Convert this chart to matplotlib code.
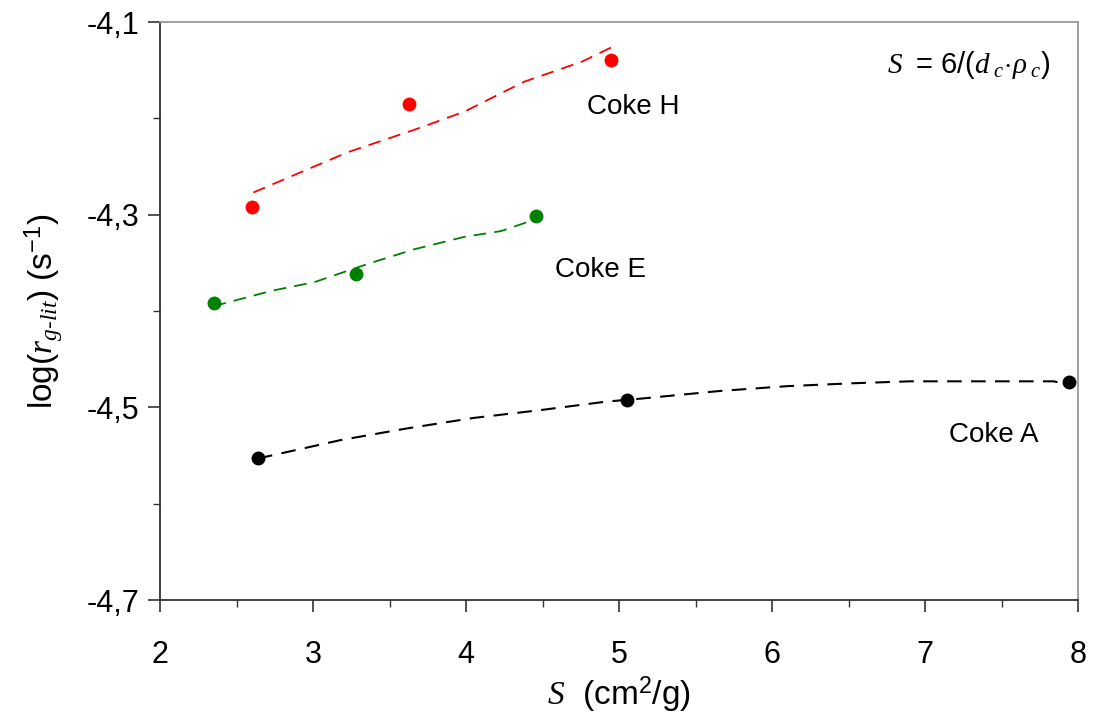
import matplotlib
matplotlib.use('Agg')
import matplotlib.pyplot as plt
from matplotlib.ticker import FuncFormatter, FixedLocator, MultipleLocator

plt.rcParams['font.family'] = ['Liberation Sans', 'DejaVu Sans']
plt.rcParams['mathtext.fontset'] = 'custom'
plt.rcParams['mathtext.rm'] = 'Liberation Sans'
plt.rcParams['mathtext.it'] = 'Liberation Serif:italic'
plt.rcParams['mathtext.sf'] = 'Liberation Sans'
plt.rcParams['axes.unicode_minus'] = False

# measured points
coke_h_x = [2.60, 3.63, 4.95]
coke_h_y = [-4.292, -4.185, -4.139]
coke_e_x = [2.35, 3.28, 4.46]
coke_e_y = [-4.392, -4.362, -4.301]
coke_a_x = [2.64, 5.05, 7.94]
coke_a_y = [-4.553, -4.492, -4.474]

# fitted (dashed) curves
fit_h_x = [2.61, 2.86, 3.23, 3.66, 3.99, 4.38, 4.76, 4.98]
fit_h_y = [-4.277, -4.260, -4.235, -4.212, -4.193, -4.162, -4.141, -4.124]
fit_e_x = [2.35, 2.73, 3.01, 3.36, 3.66, 3.99, 4.23, 4.45]
fit_e_y = [-4.395, -4.379, -4.370, -4.351, -4.336, -4.323, -4.317, -4.305]
fit_a_x = [2.64, 2.70, 3.18, 3.61, 4.05, 4.48, 4.92, 5.14, 5.66, 6.10, 6.53, 6.90, 7.84, 7.90]
fit_a_y = [-4.553, -4.551, -4.534, -4.522, -4.511, -4.503, -4.494, -4.491, -4.483,
           -4.478, -4.475, -4.473, -4.473, -4.475]

y_major = [-4.7, -4.5, -4.3, -4.1]
y_minor = [-4.6, -4.4, -4.2]

fig = plt.figure(figsize=(10.93, 7.19), dpi=100)
ax = fig.add_axes([0.1464, 0.1655, 0.8399, 0.8039])

dash = (7, 4.5)
ax.plot(fit_h_x, fit_h_y, color='red', lw=1.3, dashes=dash)
ax.plot(fit_e_x, fit_e_y, color='green', lw=1.3, dashes=dash)
ax.plot(fit_a_x, fit_a_y, color='black', lw=1.5, dashes=dash)

ax.plot(coke_h_x, coke_h_y, 'o', color='red', ms=10, mec='none')
ax.plot(coke_e_x, coke_e_y, 'o', color='green', ms=10, mec='none')
ax.plot(coke_a_x, coke_a_y, 'o', color='black', ms=10, mec='none')

ax.text(5.09, -4.188, 'Coke H', fontsize=20, ha='center', va='center')
ax.text(4.88, -4.357, 'Coke E', fontsize=20, ha='center', va='center')
ax.text(7.45, -4.529, 'Coke A', fontsize=20, ha='center', va='center')
ax.text(0.97, 0.925, r'$S\;$ = 6/($d_{\;c}\!\cdot\!\rho_{\;c}$)', fontsize=21,
        ha='right', va='center', transform=ax.transAxes)

ax.set_xlim(2, 8)
ax.set_ylim(-4.7, -4.1)
ax.xaxis.set_major_locator(MultipleLocator(1))
ax.xaxis.set_minor_locator(MultipleLocator(0.5))
ax.yaxis.set_major_locator(FixedLocator(y_major))
ax.yaxis.set_minor_locator(FixedLocator(y_minor))
ax.yaxis.set_major_formatter(FuncFormatter(lambda v, p: f'{v:.1f}'.replace('.', ',')))
ax.tick_params(which='major', direction='out', length=8.6, width=1.2, labelsize=22, color='#333333')
ax.tick_params(which='minor', direction='out', length=5, width=1.0, color='#333333')
ax.tick_params(axis='x', which='major', pad=20)
ax.tick_params(axis='y', which='major', pad=6)

for s in ['left', 'bottom']:
    ax.spines[s].set_color('#333333')
    ax.spines[s].set_linewidth(1.3)
for s in ['top', 'right']:
    ax.spines[s].set_color('#999999')
    ax.spines[s].set_linewidth(1.3)

ax.set_xlabel(r'$S$  (cm$^{\mathrm{2}}$/g)', fontsize=24, labelpad=4)
ax.set_ylabel(r'log($r_{g\text{-}lit}$) (s$^{\mathrm{-1}}$)', fontsize=24, labelpad=16)

fig.savefig('out.png', dpi=100)
